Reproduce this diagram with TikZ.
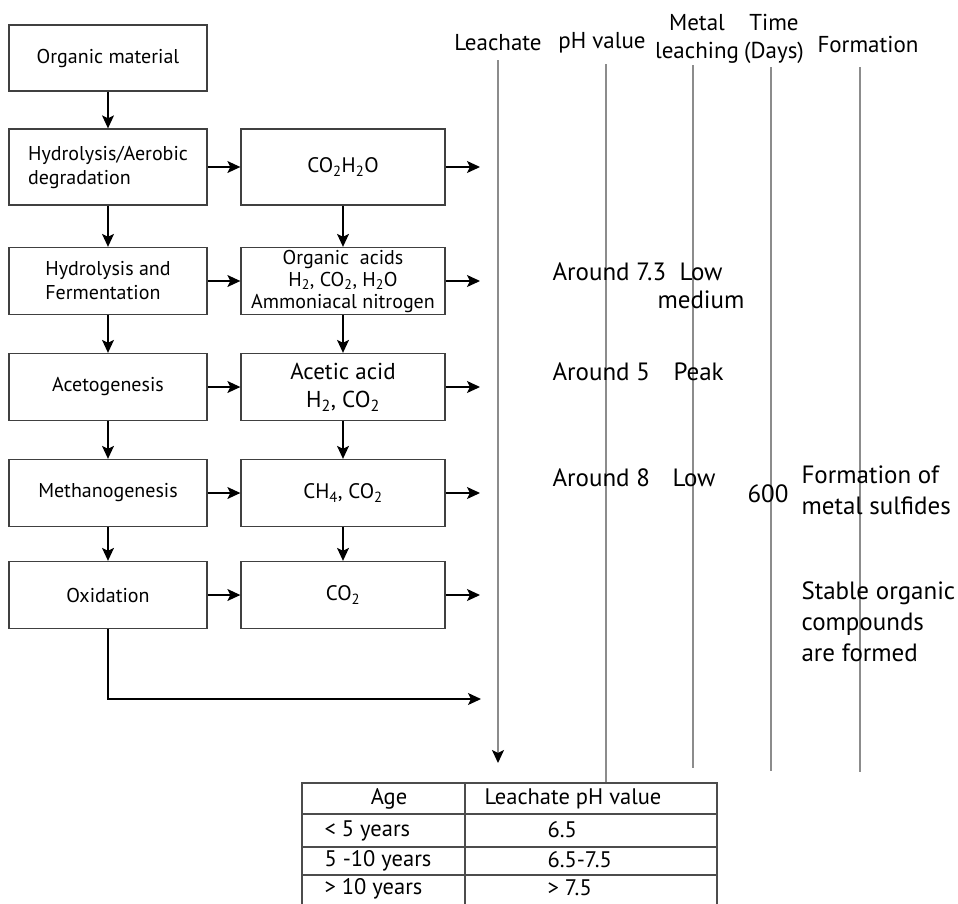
\documentclass[tikz,border=0pt]{standalone}
\usepackage{fontspec}
\setmainfont{PT Sans}
\usetikzlibrary{arrows.meta}

\begin{document}
\begin{tikzpicture}[x=1pt, y=-1pt,
                    stage/.style={draw=black!75, line width=1.3pt, minimum width=198pt, minimum height=67pt,
                                  inner sep=1pt, align=left, font=\fontsize{20}{24}\selectfont},
                    product/.style={stage, minimum width=204pt, align=center, font=\fontsize{21}{24}\selectfont},
                    flow/.style={-{Stealth[length=13pt, width=12pt, inset=3pt]}, line width=1.3pt},
                    axis/.style={draw=black!45, line width=1.8pt},
                    head/.style={align=center, font=\fontsize{23}{28}\selectfont},
                    note/.style={anchor=west, align=left, font=\fontsize{25}{31}\selectfont},
                    cell/.style={font=\fontsize{22.5}{26}\selectfont}]
                \useasboundingbox (0,0) rectangle (958,903);

                \node (l0) [stage, align=center, minimum height=66pt] at (108,58) {Organic material};
                \node (l1) [stage, minimum height=76pt] at (108,167) {Hydrolysis/Aerobic\\degradation};
                \node (l2) [stage] at (108,281) {Hydrolysis and\\Fermentation};
                \node (l3) [stage, align=center] at (108,387) {Acetogenesis};
                \node (l4) [stage, align=center] at (108,493) {Methanogenesis};
                \node (l5) [stage, align=center] at (108,595) {Oxidation};

                \node (m1) [product, minimum height=76pt] at (343,167) {CO\textsubscript{2}H\textsubscript{2}O};
                \node (m2) [product, inner sep=0pt, font=\fontsize{20}{22}\selectfont] at (343,281)
                    {Organic\ \ acids\\H\textsubscript{2}, CO\textsubscript{2}, H\textsubscript{2}O\\Ammoniacal nitrogen};
                \node (m3) [product, font=\fontsize{23}{28}\selectfont] at (343,387) {Acetic acid\\H\textsubscript{2}, CO\textsubscript{2}};
                \node (m4) [product] at (343,493) {CH\textsubscript{4}, CO\textsubscript{2}};
                \node (m5) [product] at (343,595) {CO\textsubscript{2}};

                \coordinate (o1) at (480,167);
                \coordinate (o2) at (480,281);
                \coordinate (o3) at (480,387);
                \coordinate (o4) at (480,493);
                \coordinate (o5) at (480,595);
                \coordinate (o6) at (481,699);

                \draw [flow] (l0) -- (l1);
                \draw [flow] (l1) -- (l2);
                \draw [flow] (l2) -- (l3);
                \draw [flow] (l3) -- (l4);
                \draw [flow] (l4) -- (l5);
                \draw [flow] (m1) -- (m2);
                \draw [flow] (m2) -- (m3);
                \draw [flow] (m3) -- (m4);
                \draw [flow] (m4) -- (m5);
                \draw [flow] (l1) -- (m1);
                \draw [flow] (l2) -- (m2);
                \draw [flow] (l3) -- (m3);
                \draw [flow] (l4) -- (m4);
                \draw [flow] (l5) -- (m5);
                \draw [flow] (m1) -- (o1);
                \draw [flow] (m2) -- (o2);
                \draw [flow] (m3) -- (o3);
                \draw [flow] (m4) -- (o4);
                \draw [flow] (m5) -- (o5);
                \draw [flow] (l5) |- (o6);

                \node (h1) [head] at (498,43) {Leachate};
                \node (h2) [head] at (602,43) {pH value};
                \node (h3) [head] at (697,39) {Metal\\leaching};
                \node (h4) [head] at (774,39) {Time\\(Days)};
                \node (h5) [head] at (868,44) {Formation};

                \coordinate (t1) at (498,60);
                \coordinate (t2) at (606,64);
                \coordinate (t3) at (693,65);
                \coordinate (t4) at (771,67);
                \coordinate (t5) at (860,67);
                \coordinate (b1) at (498,763);
                \coordinate (b2) at (606,783);
                \coordinate (b3) at (693,768);
                \coordinate (b4) at (771,771);
                \coordinate (b5) at (860,772);

                \draw [axis, -{Stealth[length=13pt, width=12pt, inset=3pt, black]}] (t1) -- (b1);
                \draw [axis] (t2) -- (b2);
                \draw [axis] (t3) -- (b3);
                \draw [axis] (t4) -- (b4);
                \draw [axis] (t5) -- (b5);

                \node (p2) [note] at (549,272) {Around 7.3};
                \node (q2) [note] at (676,272) {Low};
                \node (q2b) [note] at (654,300) {medium};
                \node (p3) [note] at (549,372) {Around 5};
                \node (q3) [note] at (670,372) {Peak};
                \node (p4) [note] at (549,478) {Around 8};
                \node (q4) [note] at (669,478) {Low};
                \node (d4) [note] at (744,494) {600};
                \node (f4) [note] at (798,490) {Formation of\\metal sulfides};
                \node (f5) [note] at (798,622) {Stable organic\\compounds\\are formed};

                \draw [black!70, line width=1.6pt] (302,910) |- (717,783) -- (717,910);
                \draw [black!70, line width=1.6pt] (465,783) -- (465,910);
                \draw [black!70, line width=1.6pt] (302,814) -- (717,814);
                \draw [black!70, line width=1.6pt] (302,847) -- (717,847);
                \draw [black!70, line width=1.6pt] (302,875) -- (717,875);

                \node (c0) [cell] at (389,799) {Age};
                \node (v0) [cell] at (573,799) {Leachate pH value};
                \node (c1) [cell, anchor=west] at (321,831) {< 5 years};
                \node (v1) [cell, anchor=west] at (544,830) {6.5};
                \node (c2) [cell, anchor=west] at (321,861) {5 -10 years};
                \node (v2) [cell, anchor=west] at (544,860) {6.5-7.5};
                \node (c3) [cell, anchor=west] at (321,889) {> 10 years};
                \node (v3) [cell, anchor=west] at (544,888) {> 7.5};
            \end{tikzpicture}
\end{document}
